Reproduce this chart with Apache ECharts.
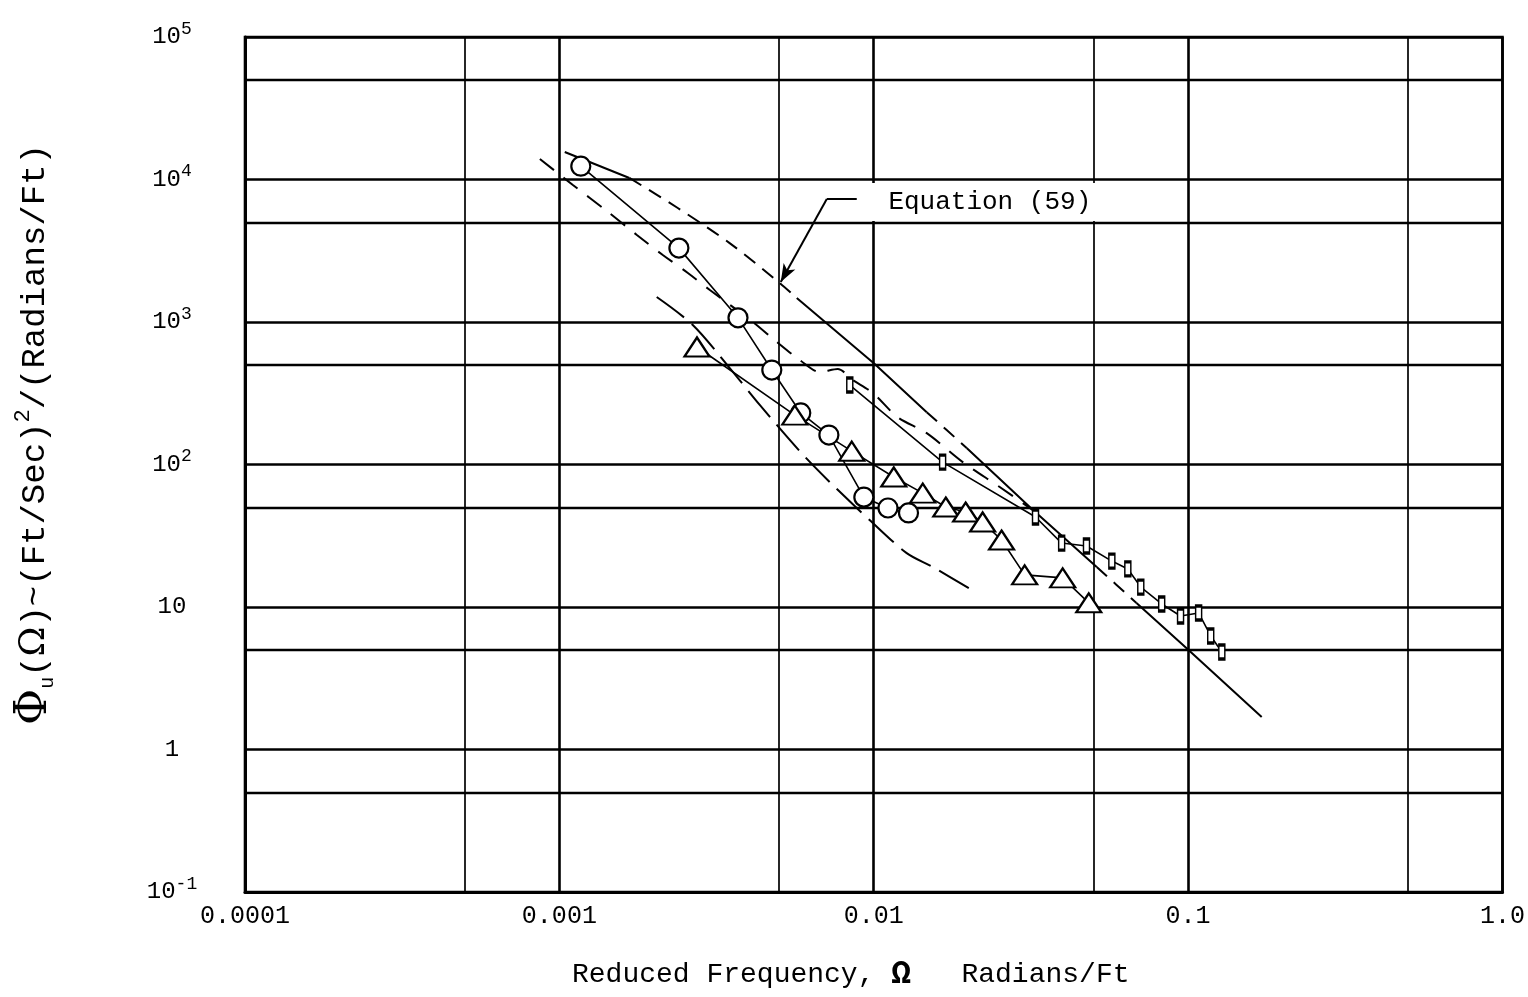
<!DOCTYPE html>
<html><head><meta charset="utf-8">
<script src="https://cdn.jsdelivr.net/npm/echarts@6/dist/echarts.min.js"></script>
<style>html,body{margin:0;padding:0;background:#fff}#c{width:1528px;height:997px}</style>
</head><body><div id="c"></div>
<script>
// ---------- data ----------
const xTickLabels = ['0.0001', '0.001', '0.01', '0.1', '1.0'];              // exponents -4..0
const yTickLabels = ['10{sup|-1}', '1', '10', '10{sup|2}', '10{sup|3}', '10{sup|4}', '10{sup|5}']; // exponents -1..5
const xRange = [0.0001, 1];
const yRange = [0.1, 100000];
const gridFiveX = [0.0005, 0.005, 0.05, 0.5];
const gridFiveY = [0.5, 5, 50, 500, 5000, 50000];

const circleX = [0.00117, 0.0024, 0.0037, 0.00474, 0.00586, 0.0072, 0.0093, 0.0111, 0.0129];
const circleY = [12400, 3300, 1070, 460, 230, 161, 59, 49.5, 45.7];

const triangleX = [0.00274, 0.00561, 0.00851, 0.01158, 0.01432, 0.01695, 0.0196, 0.0222, 0.0255, 0.0302, 0.0399, 0.0483];
const triangleY = [668, 222, 124, 81.7, 63, 50.3, 46.4, 39.5, 29.5, 16.8, 16.0, 10.7];

const rectX = [0.00839, 0.01656, 0.0327, 0.0396, 0.0475, 0.0572, 0.0643, 0.0707, 0.0824, 0.0946, 0.108, 0.118, 0.128];
const rectY = [361, 104, 42.8, 28.1, 26.8, 21.0, 18.5, 13.8, 10.5, 8.65, 9.08, 6.26, 4.83];

// Equation (59) curve
const eqX = [0.00104, 0.00167, 0.00238, 0.00348, 0.00502, 0.00569, 0.01007, 0.01474, 0.01975, 0.0321, 0.0512, 0.0685, 0.0995, 0.1714];
const eqY = [15600, 10250, 6310, 3580, 1880, 1473, 507, 233, 130.6, 48, 19.1, 10.67, 5.07, 1.69];

// upper dashed envelope
const upperX = [0.000867, 0.001104, 0.001416, 0.001764, 0.002133, 0.002563, 0.003011, 0.004122, 0.004915, 0.005815, 0.006735, 0.00768, 0.00857, 0.00994, 0.01191, 0.01474, 0.01919, 0.02516, 0.0327];
const upperY = [13930, 9150, 6010, 4080, 2953, 2208, 1677, 1000, 724, 541, 446, 468, 392, 317, 215, 166, 104, 69.5, 46.4];

// lower dashed envelope
const lowerX = [0.00204, 0.002657, 0.003483, 0.004339, 0.005815, 0.00724, 0.0097, 0.01273, 0.0154, 0.0205];
const lowerY = [1497, 953, 475, 262, 124, 75.4, 40.8, 23.9, 19.1, 13.2];

// annotation
const eqLabelText = 'Equation (59)';
const eqLabelAt = [0.0234, 6950];
const leaderX = [0.00883, 0.00709, 0.00506];
const leaderY = [7300, 7300, 1909];

const xTitle = 'Reduced Frequency, {om|Ω}   Radians/Ft';
const yTitle = '{phi|Φ}{sub|u}{t|(}{om|Ω}{t|)~(Ft/Sec)}{sup|2}{t|/(Radians/Ft)}';

// ---------- chart ----------
const FONT = '"Liberation Mono", "DejaVu Sans Mono", monospace';
const pairs = (xs, ys, a = 0, b = xs.length - 1) => xs.slice(a, b + 1).map((x, i) => [x, ys[a + i]]);

// which stretches of the Equation (59) curve are drawn broken (index ranges)
const eqDashed = [[1, 5], [7, 8], [10, 11]];
const eqSolid = [[0, 1], [5, 7], [8, 10], [11, 13]];

const lineBase = { type: 'line', showSymbol: false, silent: true, animation: false, z: 3 };
const series = [];

series.push({
  type: 'lines', coordinateSystem: 'cartesian2d', silent: true, animation: false, z: 1,
  polyline: false,
  lineStyle: { color: '#000', width: 1.7, opacity: 1, curveness: 0 },
  data: [
    ...gridFiveX.map(v => ({ coords: [[v, yRange[0]], [v, yRange[1]]], lineStyle: { width: 1.7 } })),
    ...gridFiveY.map(v => ({ coords: [[xRange[0], v], [xRange[1], v]], lineStyle: { width: 2.3 } }))
  ]
});

eqSolid.forEach(([a, b]) => series.push(Object.assign({}, lineBase, {
  data: pairs(eqX, eqY, a, b), lineStyle: { color: '#000', width: 2 }
})));
eqDashed.forEach(([a, b]) => series.push(Object.assign({}, lineBase, {
  data: pairs(eqX, eqY, a, b), smooth: 0.3, lineStyle: { color: '#000', width: 2, type: [14, 9] }
})));
series.push(Object.assign({}, lineBase, {
  data: pairs(upperX, upperY), smooth: 0.3, lineStyle: { color: '#000', width: 2, type: [18, 12] }
}));
series.push(Object.assign({}, lineBase, {
  data: pairs(lowerX, lowerY), smooth: 0.3, lineStyle: { color: '#000', width: 2, type: [34, 10] }
}));

const markerSeries = (xs, ys, symbol, size) => ({
  type: 'line', data: pairs(xs, ys), symbol, symbolSize: size, showSymbol: true, silent: true,
  animation: false, z: 5,
  lineStyle: { color: '#000', width: 1.6 },
  itemStyle: { color: '#fff', borderColor: '#000', borderWidth: 2.2 }
});
series.push(markerSeries(circleX, circleY, 'circle', 19));
series.push(markerSeries(triangleX, triangleY, 'triangle', [25, 19]));
series.push(markerSeries(rectX, rectY, 'rect', [6, 14]));

series.push({
  type: 'line', data: [], silent: true, animation: false, z: 8,
  markPoint: {
    silent: true, animation: false,
    symbol: 'rect', symbolSize: [242, 38],
    itemStyle: { color: '#fff' },
    label: { show: true, position: 'inside', formatter: eqLabelText, color: '#000', fontFamily: FONT, fontSize: 26 },
    data: [{ coord: eqLabelAt }]
  },
  markLine: {
    silent: true, animation: false, label: { show: false },
    lineStyle: { color: '#000', width: 2, type: 'solid' },
    symbolSize: [10, 18],
    data: [
      [{ coord: [leaderX[0], leaderY[0]], symbol: 'none' }, { coord: [leaderX[1], leaderY[1]], symbol: 'none' }],
      [{ coord: [leaderX[1], leaderY[1]], symbol: 'none' }, { coord: [leaderX[2], leaderY[2]], symbol: 'arrow' }]
    ]
  }
});

const chart = echarts.init(document.getElementById('c'), null, { renderer: 'canvas' });
chart.setOption({
  animation: false,
  backgroundColor: '#fff',
  grid: { left: 245, right: 25, top: 37, bottom: 105, show: true, borderColor: '#000', borderWidth: 2.6, backgroundColor: 'transparent' },
  xAxis: {
    type: 'log', logBase: 10, min: xRange[0], max: xRange[1],
    axisLine: { show: true, lineStyle: { color: '#000', width: 3 } },
    axisTick: { show: false },
    splitLine: { show: true, lineStyle: { color: '#000', width: 2.6 } },
    axisLabel: {
      formatter: v => xTickLabels[Math.round(Math.log10(v)) + 4],
      color: '#000', fontFamily: FONT, fontSize: 25, margin: 12
    },
    name: xTitle, nameLocation: 'middle', nameGap: 66,
    nameTextStyle: {
      color: '#000', fontFamily: FONT, fontSize: 28, padding: [0, 46, 0, 0],
      rich: { om: { fontFamily: FONT, fontSize: 33, fontWeight: 'bold', color: '#000' } }
    }
  },
  yAxis: {
    type: 'log', logBase: 10, min: yRange[0], max: yRange[1],
    axisLine: { show: true, lineStyle: { color: '#000', width: 3 } },
    axisTick: { show: false },
    splitLine: { show: true, lineStyle: { color: '#000', width: 2.6 } },
    axisLabel: {
      formatter: v => yTickLabels[Math.round(Math.log10(v)) + 1],
      color: '#000', fontFamily: FONT, fontSize: 24, align: 'center', margin: 73, lineHeight: 34,
      rich: { sup: { fontFamily: FONT, fontSize: 18, color: '#000', verticalAlign: 'top', lineHeight: 34 } }
    },
    name: yTitle, nameLocation: 'middle', nameGap: 187,
    nameTextStyle: {
      color: '#000', fontFamily: FONT, fontSize: 34, padding: [0, 0, 0, 60],
      rich: {
        phi: { fontFamily: '"DejaVu Serif", serif', fontSize: 44, color: '#000', lineHeight: 46 },
        sub: { fontFamily: FONT, fontSize: 20, color: '#000', verticalAlign: 'bottom', lineHeight: 46 },
        t: { fontFamily: FONT, fontSize: 34, color: '#000', lineHeight: 46 },
        om: { fontFamily: '"DejaVu Serif", serif', fontSize: 36, color: '#000', lineHeight: 46 },
        sup: { fontFamily: FONT, fontSize: 22, color: '#000', verticalAlign: 'top', lineHeight: 46 }
      }
    }
  },
  series
});
</script></body></html>
